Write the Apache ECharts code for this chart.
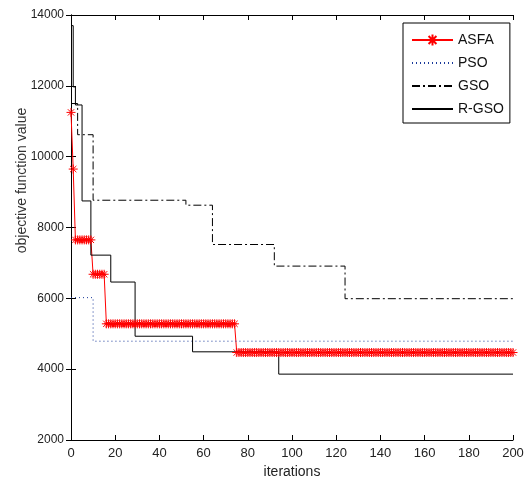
<!DOCTYPE html>
<html lang="en">
<head>
    <meta charset="UTF-8">
    <title>objective function value</title>
    <script src="https://cdn.jsdelivr.net/npm/echarts@6/dist/echarts.min.js"></script>
    <style>
        html, body { margin: 0; padding: 0; background: #fff; }
        #chart1 { width: 526px; height: 483px; }
    </style>
</head>
<body>
    <div id="chart1"></div>
    <script type="text/javascript">
        // ASFA: value held for a number of iterations (one marker per iteration)
        var asfaValues = [11250, 9650, 7650, 6680, 5280, 4470];
        var asfaCounts = [1, 1, 8, 6, 59, 126];

        // step curves: value changes at these iterations
        var psoX = [0, 10, 200];
        var psoY = [6020, 4790, 4790];
        var gsoX = [0, 3, 10, 52, 64, 92, 124, 200];
        var gsoY = [11500, 10620, 8770, 8630, 7520, 6910, 5990, 5990];
        var rgsoX = [0, 1, 2, 5, 9, 18, 29, 55, 94, 200];
        var rgsoY = [13700, 11970, 11460, 8750, 7220, 6460, 4930, 4490, 3860, 3860];

        var xTicks = [0, 20, 40, 60, 80, 100, 120, 140, 160, 180, 200];
        var yTicks = [2000, 4000, 6000, 8000, 10000, 12000, 14000];

        function pairs(xs, ys) {
            var out = [];
            for (var i = 0; i < xs.length; i++) out.push([xs[i], ys[i]]);
            return out;
        }
        // expand runs into one point per iteration
        var asfaData = [];
        var it = 0;
        for (var k = 0; k < asfaValues.length; k++) {
            for (var j = 0; j < asfaCounts[k]; j++) {
                asfaData.push([it, asfaValues[k]]);
                it++;
            }
        }

        var star = 'path://M0,-10L0,10M-10,0L10,0M-7,-7L7,7M-7,7L7,-7';
        var font = "'Liberation Sans', sans-serif";
        var plain = function (v) { return String(v); };

        var chart1 = echarts.init(document.getElementById("chart1"));
        var option = {
            backgroundColor: '#fff',
            animation: false,
            grid: { left: 71, right: 13, top: 15, bottom: 43, outerBoundsMode: 'none', containLabel: false },
            legend: {
                orient: 'vertical',
                left: 403,
                top: 23,
                padding: [10, 6, 7, 8],
                itemGap: 9,
                itemWidth: 41,
                itemHeight: 14,
                backgroundColor: '#fff',
                borderColor: '#000',
                borderWidth: 1,
                textStyle: { fontFamily: font, fontSize: 14, color: '#111' },
                data: [
                    { name: 'ASFA' },
                    { name: 'PSO', itemStyle: { opacity: 0 } },
                    { name: 'GSO', itemStyle: { opacity: 0 } },
                    { name: 'R-GSO', itemStyle: { opacity: 0 } }
                ]
            },
            xAxis: [{
                type: 'value',
                min: xTicks[0],
                max: xTicks[xTicks.length - 1],
                interval: xTicks[1] - xTicks[0],
                name: 'iterations',
                nameLocation: 'middle',
                nameGap: 23,
                nameTextStyle: { fontFamily: font, fontSize: 14, color: '#222' },
                axisLine: { lineStyle: { color: '#000' } },
                axisTick: { inside: true, length: 5, lineStyle: { color: '#000' } },
                axisLabel: { fontFamily: font, fontSize: 13, color: '#222', margin: 7, formatter: plain },
                splitLine: { show: false }
            }, {
                type: 'value',
                position: 'top',
                min: xTicks[0],
                max: xTicks[xTicks.length - 1],
                interval: xTicks[1] - xTicks[0],
                axisLine: { show: true, lineStyle: { color: '#000' } },
                axisTick: { inside: true, length: 5, lineStyle: { color: '#000' } },
                axisLabel: { show: false },
                splitLine: { show: false }
            }],
            yAxis: [{
                type: 'value',
                min: yTicks[0],
                max: yTicks[yTicks.length - 1],
                interval: yTicks[1] - yTicks[0],
                name: 'objective function value',
                nameLocation: 'middle',
                nameGap: 42,
                nameMoveOverlap: false,
                nameTextStyle: { fontFamily: font, fontSize: 14, color: '#333', padding: [0, 0, 0, 94] },
                axisLine: { show: true, lineStyle: { color: '#000' } },
                axisTick: { show: true, inside: true, length: 5, lineStyle: { color: '#000' } },
                axisLabel: { fontFamily: font, fontSize: 12, color: '#222', margin: 7, formatter: plain },
                splitLine: { show: false }
            }, {
                type: 'value',
                position: 'right',
                min: yTicks[0],
                max: yTicks[yTicks.length - 1],
                interval: yTicks[1] - yTicks[0],
                axisLine: { show: true, lineStyle: { color: '#000' } },
                axisTick: { show: true, inside: true, length: 5, lineStyle: { color: '#000' } },
                axisLabel: { show: false },
                splitLine: { show: false }
            }],
            series: [{
                name: 'ASFA',
                type: 'line',
                data: asfaData,
                symbol: star,
                symbolSize: 9,
                showAllSymbol: true,
                itemStyle: { color: '#ff0000', borderColor: '#ff0000', borderWidth: 1 },
                lineStyle: { color: '#ff0000', width: 1 }
            }, {
                name: 'PSO',
                type: 'line',
                step: 'end',
                data: pairs(psoX, psoY),
                symbol: 'none',
                itemStyle: { color: '#1a3a9a' },
                lineStyle: { color: '#1a3a9a', width: 1, type: [1, 3] }
            }, {
                name: 'GSO',
                type: 'line',
                step: 'end',
                data: pairs(gsoX, gsoY),
                symbol: 'none',
                itemStyle: { color: '#000' },
                lineStyle: { color: '#000', width: 1, type: [8, 3, 2, 3] }
            }, {
                name: 'R-GSO',
                type: 'line',
                step: 'end',
                data: pairs(rgsoX, rgsoY),
                symbol: 'none',
                itemStyle: { color: '#000' },
                lineStyle: { color: '#000', width: 1 }
            }]
        };
        chart1.setOption(option);
    </script>
</body>
</html>
